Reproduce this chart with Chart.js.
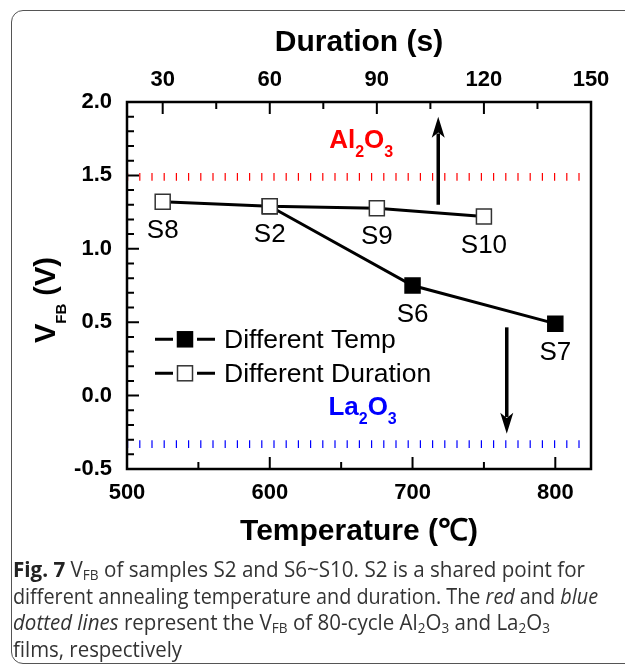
<!DOCTYPE html>
<html>
<head>
<meta charset="utf-8">
<script src="https://cdn.jsdelivr.net/npm/chart.js@4.4.1/dist/chart.umd.min.js"></script>
<style>
  html, body { margin: 0; padding: 0; background: #fff; }
  body { width: 625px; height: 668px; overflow: hidden; position: relative; }
  .frame { position: absolute; left: 11px; top: 10px; width: 700px; height: 652px; border: 1.5px solid #555; border-radius: 12px; }
  #wrap { position: absolute; left: 0; top: 0; width: 625px; height: 560px; }
  .cap { position: absolute; left: 13px; top: 556px; font-family: 'Open Sans', sans-serif; font-size: 21px; line-height: 26.5px; color: #333; }
  .cap div { white-space: nowrap; transform-origin: 0 0; width: max-content; }
  .cap b { color: #222; }
  .cap sub { font-size: 0.66em; vertical-align: -0.22em; line-height: 0; }
</style>
</head>
<body>
<div class="frame"></div>
<div id="wrap"><canvas id="vfbChart" width="625" height="560"></canvas></div>
<div class="cap">
  <div data-w="572"><b>Fig. 7</b> V<sub>FB</sub> of samples S2 and S6~S10. S2 is a shared point for</div>
  <div data-w="585">different annealing temperature and duration. The <i>red</i> and <i>blue</i></div>
  <div data-w="537"><i>dotted lines</i> represent the V<sub>FB</sub> of 80-cycle Al<sub>2</sub>O<sub>3</sub> and La<sub>2</sub>O<sub>3</sub></div>
  <div data-w="169">films, respectively</div>
</div>
<script>
// data
const durSec = [30, 60, 90, 120];
const durVfb = [1.32, 1.29, 1.277, 1.22];
const durNames = ['S8', 'S2', 'S9', 'S10'];

const tempC = [600, 700, 800];
const tempVfb = [1.29, 0.75, 0.49];
const tempNames = ['', 'S6', 'S7'];

const refTemp = [500, 825];
const al2o3Vfb = [1.49, 1.49];
const la2o3Vfb = [-0.33, -0.33];

const tempTicks = [500, 600, 700, 800];
const durTicks = [30, 60, 90, 120, 150];
const vfbTicks = [-0.5, 0.0, 0.5, 1.0, 1.5, 2.0];

const upArrow = { t: 718, from: 1.30, to: 1.90 };
const downArrow = { t: 766, from: 0.465, to: -0.26 };
const alLabel = { t: 664, v: 1.686 };
const laLabel = { t: 665, v: -0.134 };

const FONT = '"Liberation Sans", Arial, sans-serif';
Chart.defaults.font.family = FONT;
Chart.defaults.color = '#000';

function richText(ctx, parts, x, y, align) {
  let w = 0;
  parts.forEach(p => { ctx.font = p[3] + ' ' + p[1] + 'px ' + FONT; w += ctx.measureText(p[0]).width; });
  let xx = align === 'center' ? x - w / 2 : x;
  ctx.textAlign = 'left';
  ctx.textBaseline = 'alphabetic';
  parts.forEach(p => {
    ctx.font = p[3] + ' ' + p[1] + 'px ' + FONT;
    ctx.fillText(p[0], xx, y + p[2]);
    xx += ctx.measureText(p[0]).width;
  });
}

function arrow(ctx, x, y0, y1) {
  const dir = Math.sign(y1 - y0);
  const hl = 21, hw = 6.5;
  ctx.lineWidth = 3.5;
  ctx.beginPath();
  ctx.moveTo(x, y0);
  ctx.lineTo(x, y1 - dir * hl * 0.8);
  ctx.stroke();
  ctx.beginPath();
  ctx.moveTo(x, y1);
  ctx.lineTo(x - hw, y1 - dir * hl);
  ctx.lineTo(x, y1 - dir * hl * 0.75);
  ctx.lineTo(x + hw, y1 - dir * hl);
  ctx.closePath();
  ctx.fill();
}

function square(ctx, x, y, filled) {
  ctx.fillStyle = filled ? '#000' : '#fff';
  ctx.strokeStyle = filled ? '#000' : '#333';
  ctx.lineWidth = 1.5;
  ctx.fillRect(x - 7.5, y - 7.5, 15, 15);
  ctx.strokeRect(x - 7.5, y - 7.5, 15, 15);
}

const decor = {
  id: 'decor',
  afterDatasetsDraw(chart) {
    const { ctx, chartArea: a, scales } = chart;
    const x = scales.x, x2 = scales.x2, y = scales.y;
    ctx.save();
    ctx.strokeStyle = '#000';
    ctx.lineWidth = 2;
    ctx.beginPath();
    for (let v = 500; v <= 825; v += 50) {
      const px = x.getPixelForValue(v), len = v % 100 === 0 ? 12 : 7;
      ctx.moveTo(px, a.bottom); ctx.lineTo(px, a.bottom - len);
    }
    for (let v = 30; v <= 150; v += 15) {
      const px = x2.getPixelForValue(v), len = (v - 30) % 30 === 0 ? 12 : 7;
      ctx.moveTo(px, a.top); ctx.lineTo(px, a.top + len);
    }
    for (let i = 0; i <= 25; i++) {
      const py = y.getPixelForValue(-0.5 + i * 0.1), len = i % 5 === 0 ? 12 : 7;
      ctx.moveTo(a.left, py); ctx.lineTo(a.left + len, py);
    }
    ctx.stroke();
    ctx.lineWidth = 2.5;
    ctx.strokeRect(a.left, a.top, a.right - a.left, a.bottom - a.top);
    ctx.restore();
  },
  afterDraw(chart) {
    const { ctx, chartArea: a, scales } = chart;
    const x = scales.x, x2 = scales.x2, y = scales.y;
    ctx.save();
    ctx.fillStyle = '#000';
    ctx.strokeStyle = '#000';

    // sample labels
    ctx.font = '26px ' + FONT;
    ctx.textAlign = 'center';
    ctx.textBaseline = 'alphabetic';
    durNames.forEach((n, i) => {
      if (n) ctx.fillText(n, x2.getPixelForValue(durSec[i]), y.getPixelForValue(durVfb[i]) + 36);
    });
    tempNames.forEach((n, i) => {
      if (n) ctx.fillText(n, x.getPixelForValue(tempC[i]), y.getPixelForValue(tempVfb[i]) + 36);
    });

    // arrows
    arrow(ctx, x.getPixelForValue(upArrow.t), y.getPixelForValue(upArrow.from), y.getPixelForValue(upArrow.to));
    arrow(ctx, x.getPixelForValue(downArrow.t), y.getPixelForValue(downArrow.from), y.getPixelForValue(downArrow.to));

    // film labels
    ctx.fillStyle = '#ff0000';
    richText(ctx, [['Al', 26, 0, 'bold'], ['2', 16, 9, 'bold'], ['O', 26, 0, 'bold'], ['3', 16, 9, 'bold']],
      x.getPixelForValue(alLabel.t), y.getPixelForValue(alLabel.v), 'center');
    ctx.fillStyle = '#0000ff';
    richText(ctx, [['La', 26, 0, 'bold'], ['2', 16, 9, 'bold'], ['O', 26, 0, 'bold'], ['3', 16, 9, 'bold']],
      x.getPixelForValue(laLabel.t), y.getPixelForValue(laLabel.v), 'center');

    // legend: line - marker - line
    const rows = [[chart.data.datasets[1], 339.3, true], [chart.data.datasets[0], 373.3, false]];
    rows.forEach(r => {
      ctx.strokeStyle = '#000';
      ctx.lineWidth = 3;
      ctx.beginPath();
      ctx.moveTo(155, r[1]); ctx.lineTo(173, r[1]);
      ctx.moveTo(197, r[1]); ctx.lineTo(215, r[1]);
      ctx.stroke();
      square(ctx, 185, r[1], r[2]);
      ctx.fillStyle = '#000';
      ctx.font = '26.5px ' + FONT;
      ctx.textAlign = 'left';
      ctx.textBaseline = 'middle';
      ctx.fillText(r[0].label, 224, r[1] + 1);
    });

    // axis titles
    ctx.fillStyle = '#000';
    const cx = (a.left + a.right) / 2;
    ctx.font = 'bold 30px ' + FONT;
    ctx.textAlign = 'center';
    ctx.textBaseline = 'alphabetic';
    ctx.fillText('Duration (s)', cx, 51);
    ctx.fillText('Temperature (\u2103)', cx, 540);
    ctx.translate(55, 300);
    ctx.rotate(-Math.PI / 2);
    richText(ctx, [['V', 29, 0, 'bold'], ['FB', 15, 11, 'bold'], [' (V)', 29, 0, 'bold']], 0, 0, 'center');
    ctx.restore();
  }
};

const tickFont = { size: 22, weight: 'bold' };

function drawChart() {
  new Chart(document.getElementById('vfbChart'), {
    type: 'scatter',
    data: {
      datasets: [
        {
          label: 'Different Duration',
          xAxisID: 'x2',
          data: durSec.map((s, i) => ({ x: s, y: durVfb[i] })),
          showLine: true,
          borderColor: '#000',
          borderWidth: 3,
          pointStyle: 'rect',
          pointRadius: 10.6,
          pointBackgroundColor: '#fff',
          pointBorderColor: '#333',
          pointBorderWidth: 1.5
        },
        {
          label: 'Different Temp',
          xAxisID: 'x',
          data: tempC.map((t, i) => ({ x: t, y: tempVfb[i] })),
          showLine: true,
          borderColor: '#000',
          borderWidth: 3,
          pointStyle: 'rect',
          pointRadius: 10.6,
          pointBackgroundColor: '#000',
          pointBorderColor: '#000',
          pointBorderWidth: 1.5
        },
        {
          label: 'Al2O3',
          xAxisID: 'x',
          data: refTemp.map((t, i) => ({ x: t, y: al2o3Vfb[i] })),
          showLine: true,
          borderColor: '#ff0000',
          borderWidth: 7.7,
          borderDash: [1.2, 11],
          pointRadius: 0
        },
        {
          label: 'La2O3',
          xAxisID: 'x',
          data: refTemp.map((t, i) => ({ x: t, y: la2o3Vfb[i] })),
          showLine: true,
          borderColor: '#0000ff',
          borderWidth: 7.7,
          borderDash: [1.2, 11],
          pointRadius: 0
        }
      ]
    },
    options: {
      responsive: false,
      animation: false,
      events: [],
      layout: { padding: { left: 0, right: 34, top: 0, bottom: 0 } },
      plugins: { legend: { display: false }, tooltip: { enabled: false } },
      scales: {
        x: {
          type: 'linear', position: 'bottom', min: 500, max: 825,
          afterBuildTicks: s => { s.ticks = tempTicks.map(v => ({ value: v })); },
          afterFit: s => { s.height = 91; },
          ticks: { padding: 11, font: tickFont, color: '#000' },
          grid: { display: false, drawTicks: false },
          border: { display: false }
        },
        x2: {
          type: 'linear', position: 'top', min: 20, max: 150,
          afterBuildTicks: s => { s.ticks = durTicks.map(v => ({ value: v })); },
          afterFit: s => { s.height = 102; },
          ticks: { padding: 9, font: tickFont, color: '#000' },
          grid: { display: false, drawTicks: false },
          border: { display: false }
        },
        y: {
          type: 'linear', position: 'left', min: -0.5, max: 2.0,
          afterBuildTicks: s => { s.ticks = vfbTicks.map(v => ({ value: v })); },
          afterFit: s => { s.width = 127; },
          ticks: { padding: 15, font: tickFont, color: '#000', callback: v => v.toFixed(1) },
          grid: { display: false, drawTicks: false },
          border: { display: false }
        }
      }
    },
    plugins: [decor]
  });
}

Promise.all([
  document.fonts.load('26px "Liberation Sans"'),
  document.fonts.load('bold 26px "Liberation Sans"'),
  document.fonts.load('21px "Open Sans"')
]).catch(() => {}).then(() => {
  drawChart();
  document.querySelectorAll('.cap div').forEach(d => {
    const w = d.getBoundingClientRect().width;
    d.style.transform = 'scaleX(' + (+d.dataset.w / w) + ')';
  });
});
</script>
</body>
</html>
